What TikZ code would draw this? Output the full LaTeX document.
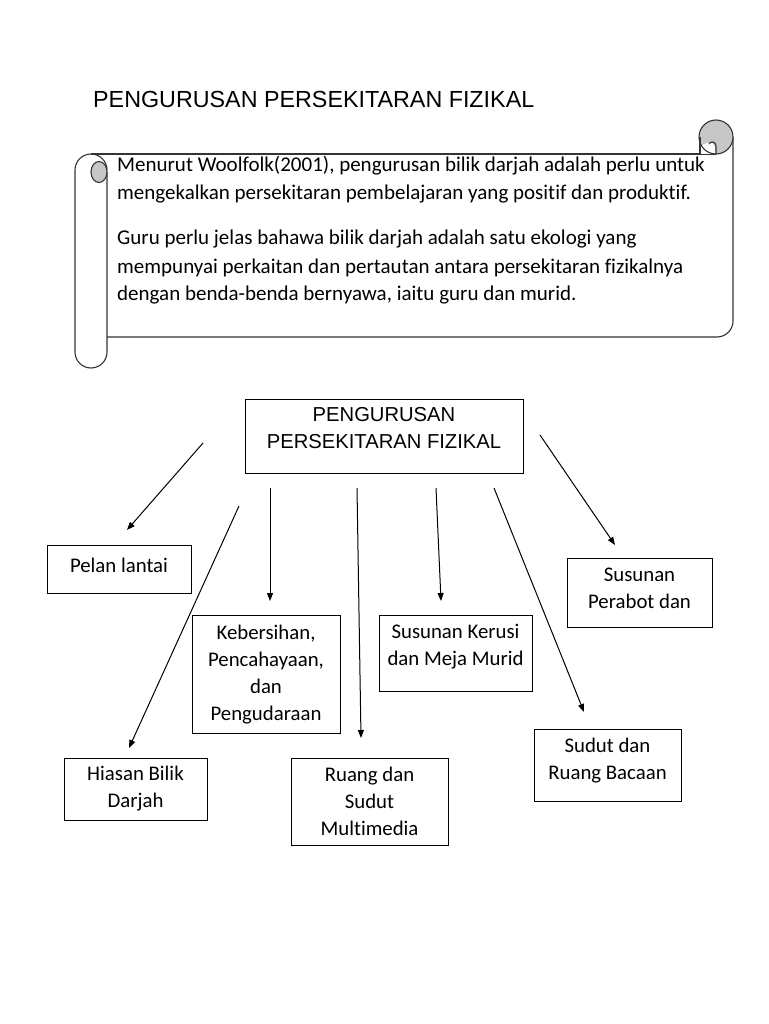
\documentclass[tikz,border=0pt]{standalone}
\usepackage{fontspec}
\setmainfont{Carlito}[Ligatures=NoCommon]
\newfontfamily\arialf{Liberation Sans}
\usetikzlibrary{arrows.meta}
\newcommand\boxtext[1]{\begin{tabular}[t]{@{}c@{}}#1\end{tabular}}
\begin{document}
\begin{tikzpicture}[x=1pt,y=-1pt,
  box/.style={draw, line width=0.9pt, inner sep=0pt, anchor=base, font=\fontsize{20.8}{27}\selectfont},
  conn/.style={line width=1pt, -{Triangle[length=8pt,width=6pt]}},
  scrolline/.style={line width=1.1pt, draw=black!80},
  curlfill/.style={fill=black!22}]
\useasboundingbox (0,0) rectangle (768,1024);

% title
\node[anchor=base west, inner sep=0pt, font=\arialf\fontsize{23.3}{27}\selectfont] (title) at (93,108) {PENGURUSAN PERSEKITARAN FIZIKAL};

% scroll shape
\draw[scrolline] (91,154) -- (716,154);
\draw[scrolline] (733,137) -- (733,321) arc[start angle=0,end angle=-90,radius=16pt] -- (107,337);
\draw[scrolline] (107,170) arc[start angle=0,end angle=180,radius=16pt] -- (75,352) arc[start angle=180,end angle=360,radius=16pt] -- (107,172);
\filldraw[scrolline, curlfill] (99,172) circle[x radius=8pt, y radius=10.5pt];
\fill[black!22] (716,137) circle[radius=17pt];
\fill[white] (701,154) -- (701,147) .. controls (703,142) and (714,141) .. (715,147) -- (715,154) -- cycle;
\draw[scrolline] (716,137) circle[radius=17pt];
\draw[scrolline] (700,137) -- (700,154);
\draw[scrolline] (716,154) -- (716,146) .. controls (716,141) and (710,141) .. (709,144);

% scroll text
\node[anchor=base west, inner sep=0pt, font=\fontsize{21}{28}\selectfont] (scrolltext) at (117,172) {\begin{tabular}[t]{@{}l@{}}Menurut Woolfolk(2001), pengurusan bilik darjah adalah perlu untuk\\ mengekalkan persekitaran pembelajaran yang positif dan produktif.\\[17pt] Guru perlu jelas bahawa bilik darjah adalah satu ekologi yang\\ mempunyai perkaitan dan pertautan antara persekitaran fizikalnya\\ dengan benda-benda bernyawa, iaitu guru dan murid.\end{tabular}};

% boxes
\node[box, font=\arialf\fontsize{20.2}{27}\selectfont, minimum width=278pt, text height=22pt, text depth=52pt] (main) at (384,421) {\boxtext{PENGURUSAN\\PERSEKITARAN FIZIKAL}};
\node[box, minimum width=144pt, text height=27pt, text depth=21pt] (pelan) at (119,572) {\boxtext{Pelan lantai}};
\node[box, minimum width=148pt, text height=24pt, text depth=94pt] (keb) at (266,639) {\boxtext{Kebersihan,\\Pencahayaan,\\dan\\Pengudaraan}};
\node[box, minimum width=153pt, text height=23pt, text depth=53pt] (kerusi) at (455.5,638) {\boxtext{Susunan Kerusi\\dan Meja Murid}};
\node[box, minimum width=145pt, text height=23pt, text depth=46pt] (perabot) at (639.5,581) {\boxtext{Susunan\\Perabot dan}};
\node[box, minimum width=143pt, text height=22pt, text depth=40pt] (hiasan) at (135.5,780) {\boxtext{Hiasan Bilik\\Darjah}};
\node[box, minimum width=157pt, text height=23pt, text depth=64pt] (ruang) at (369.5,781) {\boxtext{Ruang dan\\Sudut\\Multimedia}};
\node[box, minimum width=147pt, text height=23pt, text depth=49pt] (sudut) at (607.5,752) {\boxtext{Sudut dan\\Ruang Bacaan}};

% free arrows
\coordinate (a1s) at (203,443); \coordinate (a1e) at (127,530);
\coordinate (a2s) at (270,488); \coordinate (a2e) at (270,601);
\coordinate (a3s) at (239,506); \coordinate (a3e) at (129,748);
\coordinate (a4s) at (357,488); \coordinate (a4e) at (361,738);
\coordinate (a5s) at (436,488); \coordinate (a5e) at (441,601);
\coordinate (a6s) at (494,488); \coordinate (a6e) at (584,712);
\coordinate (a7s) at (540,435); \coordinate (a7e) at (615,545);
\draw[conn] (a1s) -- (a1e);
\draw[conn] (a2s) -- (a2e);
\draw[conn] (a3s) -- (a3e);
\draw[conn] (a4s) -- (a4e);
\draw[conn] (a5s) -- (a5e);
\draw[conn] (a6s) -- (a6e);
\draw[conn] (a7s) -- (a7e);
\end{tikzpicture}
\end{document}
